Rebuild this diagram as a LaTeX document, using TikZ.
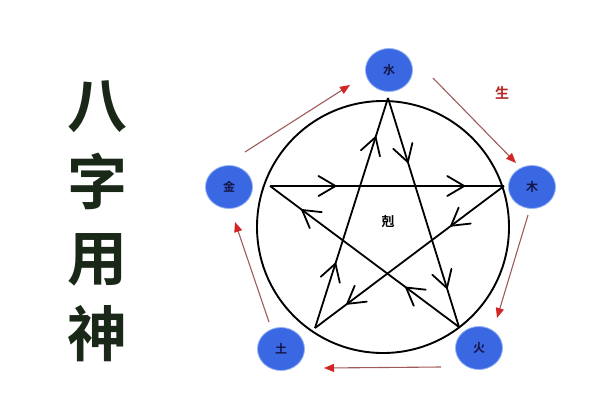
\documentclass[tikz,border=0pt]{standalone}
\usepackage{fontspec}
\newfontfamily\cjk{Noto Sans CJK SC}
\newfontfamily\cjkb{Noto Sans CJK SC Bold}
\usetikzlibrary{arrows.meta,decorations.markings,shapes.geometric,calc}
\definecolor{titlecol}{RGB}{26,40,24}
\definecolor{ballblue}{RGB}{58,104,226}
\definecolor{balledge}{RGB}{150,180,245}
\definecolor{balltext}{RGB}{20,22,70}
\definecolor{shengline}{RGB}{160,90,90}
\definecolor{shenghead}{RGB}{210,38,38}
\definecolor{shengtext}{RGB}{180,40,40}
\tikzset{
  ball/.style={ellipse, fill=ballblue, draw=balledge, line width=0.8pt,
    minimum width=47pt, minimum height=43pt, inner sep=0pt,
    text=balltext, font=\cjkb\fontsize{12}{12}\selectfont},
  titlechar/.style={text=titlecol, font=\cjkb\fontsize{60}{60}\selectfont, inner sep=0pt},
  shengarrow/.style={draw=shengline, line width=1.1pt,
    -{Triangle[length=10pt,width=8pt,fill=shenghead,color=shenghead]}},
  chev/.style={decoration={markings,
    mark=at position #1 with {\draw[line width=1.8pt, line cap=round, line join=miter]
      (-17pt,10pt) -- (0pt,0pt) -- (-17pt,-10pt);}}},
  kestroke/.style={line width=1.8pt, line join=round,
    postaction={decorate, chev=0.28}, postaction={decorate, chev=0.83}},
}
\begin{document}
\begin{tikzpicture}[x=1pt,y=-1pt]
\useasboundingbox (0,0) rectangle (600,400);
\fill[white] (0,0) rectangle (600,400);
% title
\node[titlechar] (t1) at (97,107) {八};
\node[titlechar] (t2) at (97,181) {字};
\node[titlechar] (t3) at (97,260) {用};
\node[titlechar] (t4) at (97,334) {神};
% ring
\node[circle, draw, line width=1.9pt, minimum size=252pt, inner sep=0pt] (ring) at (383,227) {};
% star vertices
\coordinate (sT) at (388,98);
\coordinate (sL) at (270,186);
\coordinate (sR) at (504,186);
\coordinate (sBL) at (315,328);
\coordinate (sBR) at (459,327);
\draw[kestroke] (sT) -- (sBR);
\draw[kestroke] (sBR) -- (sL);
\draw[kestroke] (sL) -- (sR);
\draw[kestroke] (sR) -- (sBL);
\draw[kestroke] (sBL) -- (sT);
\node[font=\cjkb\fontsize{13}{13}\selectfont] (ke) at (388,222) {剋};
% element balls
\node[ball] (shui) at (389,70) {水};
\node[ball] (mu) at (532,187) {木};
\node[ball] (huo) at (479,348) {火};
\node[ball] (tu) at (281,349) {土};
\node[ball] (jin) at (229,187) {金};
% sheng arrows
\draw[shengarrow] ($(jin)+(16,-35)$) -- ($(shui)+(-39,15)$);
\draw[shengarrow] ($(shui)+(44,8)$) -- ($(mu)+(-16,-24)$);
\draw[shengarrow] ($(mu)+(-4,28)$) -- ($(huo)+(18,-30)$);
\draw[shengarrow] ($(huo)+(-38,19)$) -- ($(tu)+(43,19)$);
\draw[shengarrow] ($(tu)+(-12,-27)$) -- ($(jin)+(6,35)$);
\node[text=shengtext, font=\cjkb\fontsize{14}{14}\selectfont] (sheng) at (502,93) {生};
\end{tikzpicture}
\end{document}
